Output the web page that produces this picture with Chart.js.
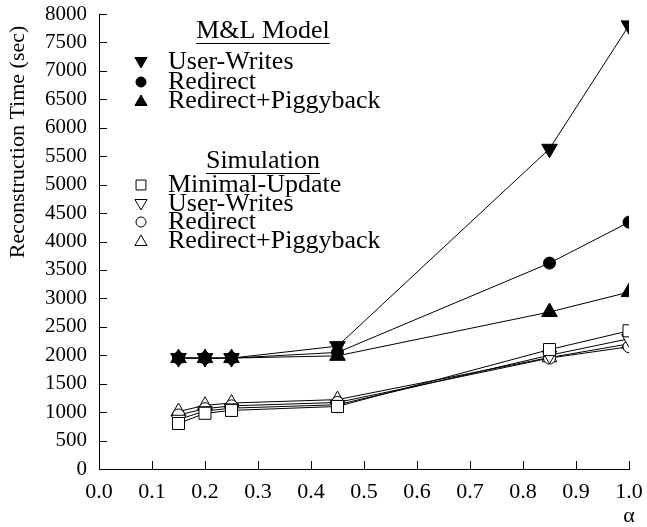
<!DOCTYPE html>
<html><head><meta charset="utf-8">
<script src="https://cdn.jsdelivr.net/npm/chart.js@4/dist/chart.umd.min.js"></script>
<style>html,body{margin:0;padding:0;background:#fff}#wrap{width:647px;height:527px}</style>
</head><body><div id="wrap"><canvas id="c" width="647" height="527"></canvas></div>
<script>
const alphas = [0.15, 0.2, 0.25, 0.45, 0.85, 1.0];
const mlUserWrites = [1950, 1950, 1950, 2160, 5630, 7800];
const mlRedirect = [1950, 1950, 1950, 2050, 3620, 4340];
const mlPiggyback = [1950, 1950, 1950, 1990, 2760, 3110];
const simMinimal = [800, 980, 1030, 1100, 2100, 2430];
const simUserWrites = [870, 1020, 1070, 1130, 2000, 2290];
const simRedirect = [950, 1060, 1110, 1170, 1950, 2150];
const simPiggyback = [1010, 1120, 1160, 1220, 1960, 2200];
const xTicks = [0.0, 0.1, 0.2, 0.3, 0.4, 0.5, 0.6, 0.7, 0.8, 0.9, 1.0];
const yTicks = [0, 500, 1000, 1500, 2000, 2500, 3000, 3500, 4000, 4500, 5000, 5500, 6000, 6500, 7000, 7500, 8000];

const FONT = "'Liberation Serif', 'Times New Roman', serif";
const pts = arr => alphas.map((a, i) => ({x: a, y: arr[i]}));
function ds(label, arr, style, filled, r, rot) {
  return {label, data: pts(arr), borderColor: '#000', borderWidth: 1,
    pointStyle: style, pointRotation: rot || 0, pointRadius: r, pointHoverRadius: r,
    pointBackgroundColor: filled ? '#000' : '#fff', pointBorderColor: '#000', pointBorderWidth: 1,
    backgroundColor: filled ? '#000' : '#fff', fill: false, tension: 0};
}

function drawMarker(ctx, style, filled, x, y, r, rot) {
  ctx.save();
  ctx.beginPath();
  if (style === 'circle') {
    ctx.arc(x, y, r, 0, Math.PI * 2);
  } else if (style === 'rect') {
    const s = Math.SQRT1_2 * r;
    ctx.rect(x - s, y - s, 2 * s, 2 * s);
  } else {
    let rad = (rot || 0) * Math.PI / 180;
    ctx.moveTo(x + Math.sin(rad) * r, y - Math.cos(rad) * r);
    rad += 2 * Math.PI / 3;
    ctx.lineTo(x + Math.sin(rad) * r, y - Math.cos(rad) * r);
    rad += 2 * Math.PI / 3;
    ctx.lineTo(x + Math.sin(rad) * r, y - Math.cos(rad) * r);
    ctx.closePath();
  }
  ctx.fillStyle = filled ? '#000' : '#fff';
  ctx.fill();
  ctx.strokeStyle = '#000';
  ctx.lineWidth = 1;
  ctx.stroke();
  ctx.restore();
}

const decor = {
  id: 'decor',
  afterDraw(chart) {
    const ctx = chart.ctx;
    const xs = chart.scales.x, ys = chart.scales.y;
    const area = chart.chartArea;
    ctx.save();
    ctx.strokeStyle = '#000';
    ctx.lineWidth = 1;
    // inward ticks
    xTicks.forEach(v => {
      const px = Math.round(xs.getPixelForValue(v)) + 0.5;
      ctx.beginPath(); ctx.moveTo(px, area.bottom); ctx.lineTo(px, area.bottom - 8); ctx.stroke();
    });
    yTicks.forEach(v => {
      const py = Math.round(ys.getPixelForValue(v)) + 0.5;
      ctx.beginPath(); ctx.moveTo(area.left, py); ctx.lineTo(area.left + 8, py); ctx.stroke();
    });
    ctx.fillStyle = '#000';
    // axis titles
    ctx.font = '22px ' + FONT;
    ctx.textAlign = 'center'; ctx.textBaseline = 'middle';
    ctx.fillText('\u03b1', xs.getPixelForValue(1.0), 516);
    ctx.save();
    ctx.translate(18, 142);
    ctx.rotate(-Math.PI / 2);
    ctx.font = '22px ' + FONT;
    ctx.fillText('Reconstruction Time (sec)', 0, 0);
    ctx.restore();
    // legend
    const lf = '26px ' + FONT;
    ctx.font = lf;
    function header(text, cx, cy) {
      ctx.textAlign = 'center'; ctx.textBaseline = 'middle';
      ctx.fillText(text, cx, cy);
      const w = ctx.measureText(text).width;
      ctx.beginPath(); ctx.moveTo(cx - w / 2, cy + 12.5); ctx.lineTo(cx + w / 2, cy + 12.5); ctx.stroke();
    }
    header('M&L Model', 263, 31);
    header('Simulation', 263, 161);
    const items = [
      ['User-Writes', 'triangle', true, 62, 7, 180],
      ['Redirect', 'circle', true, 82, 5, 0],
      ['Redirect+Piggyback', 'triangle', true, 101, 7, 0],
      ['Minimal-Update', 'rect', false, 185, 7, 0],
      ['User-Writes', 'triangle', false, 204, 7, 180],
      ['Redirect', 'circle', false, 222, 5, 0],
      ['Redirect+Piggyback', 'triangle', false, 241, 7, 0]
    ];
    items.forEach(it => {
      drawMarker(ctx, it[1], it[2], 141, it[3] + (it[1] === 'triangle' ? (it[5] ? -1 : 1) : 0), it[4], it[5]);
      ctx.textAlign = 'left'; ctx.textBaseline = 'middle';
      ctx.fillText(it[0], 168, it[3]);
    });
    ctx.restore();
  }
};

new Chart(document.getElementById('c'), {
  type: 'line',
  data: {datasets: [
    ds('M&L User-Writes', mlUserWrites, 'triangle', true, 9, 180),
    ds('M&L Redirect', mlRedirect, 'circle', true, 6),
    ds('M&L Redirect+Piggyback', mlPiggyback, 'triangle', true, 9),
    ds('Sim Minimal-Update', simMinimal, 'rect', false, 8.5),
    ds('Sim User-Writes', simUserWrites, 'triangle', false, 8.5, 180),
    ds('Sim Redirect', simRedirect, 'circle', false, 6),
    ds('Sim Redirect+Piggyback', simPiggyback, 'triangle', false, 8.5)
  ]},
  options: {
    responsive: false, animation: false, devicePixelRatio: 1,
    layout: {padding: {left: 0, right: 18, top: 14, bottom: 0}},
    plugins: {legend: {display: false}, tooltip: {enabled: false}},
    scales: {
      x: {type: 'linear', min: 0, max: 1,
        afterFit(s) { s.height = 58; s.paddingLeft = 0; s.paddingRight = 0; },
        afterBuildTicks(s) { s.ticks = xTicks.map(v => ({value: v})); },
        ticks: {stepSize: 0.1, color: '#000', padding: 10, font: {family: FONT, size: 22},
          callback: v => Number(v).toFixed(1), maxRotation: 0, autoSkip: false},
        grid: {drawOnChartArea: false, drawTicks: false},
        border: {display: true, color: '#000', width: 1}},
      y: {type: 'linear', min: 0, max: 8000,
        afterFit(s) { s.width = 99; s.paddingTop = 0; s.paddingBottom = 0; },
        afterBuildTicks(s) { s.ticks = yTicks.map(v => ({value: v})); },
        ticks: {stepSize: 500, color: '#000', padding: 12, font: {family: FONT, size: 21}, autoSkip: false,
          callback: v => String(v)},
        grid: {drawOnChartArea: false, drawTicks: false},
        border: {display: true, color: '#000', width: 1}}
    }
  },
  plugins: [decor]
});
</script>
</body></html>
